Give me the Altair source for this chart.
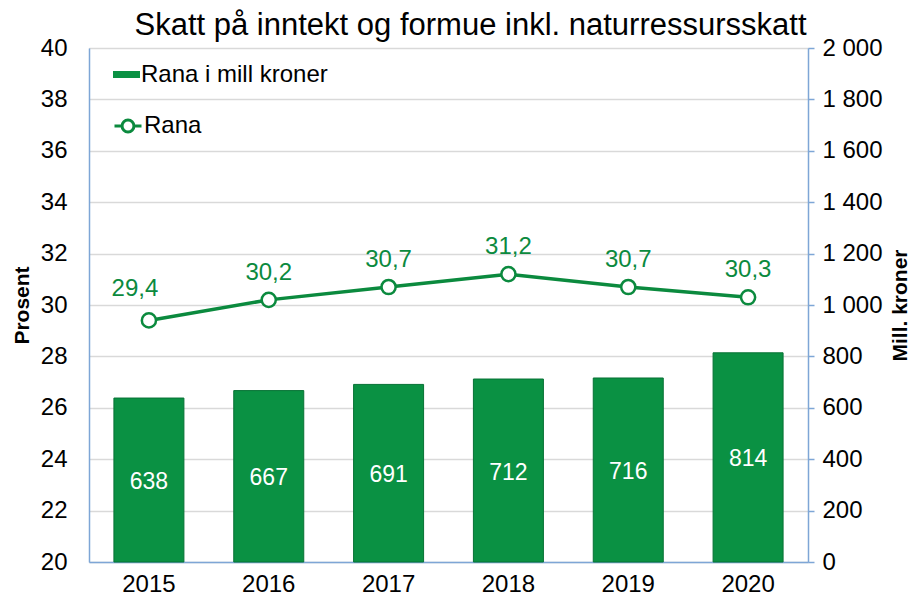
import altair as alt
import pandas as pd

years = ["2015", "2016", "2017", "2018", "2019", "2020"]
mill_kroner = [638, 667, 691, 712, 716, 814]
prosent = [29.4, 30.2, 30.7, 31.2, 30.7, 30.3]
bar_series = "Rana i mill kroner"
line_series = "Rana"
title_text = "Skatt på inntekt og formue inkl. naturressursskatt"

df = pd.DataFrame({
    "year": years,
    "mill": mill_kroner,
    "pct": prosent,
    "bar_series": bar_series,
    "line_series": line_series,
})
df["pct_label"] = [f"{v:.1f}".replace(".", ",") for v in prosent]
df["mill_mid"] = df["mill"] / 2

FONT = "Liberation Sans"
GREEN = "#0a9143"
LINE_GREEN = "#0b8a3e"
AXIS_BLUE = "#7ea6d6"

base = alt.Chart(df)

x = alt.X(
    "year:O",
    scale=alt.Scale(paddingInner=0, paddingOuter=0),
    axis=alt.Axis(title=None, labelAngle=0, labelFontSize=24, labelColor="black",
                  labelFont=FONT, ticks=False, domainColor=AXIS_BLUE, domainWidth=1.5,
                  labelPadding=10, grid=False),
)

right_scale = alt.Scale(domain=[0, 2000], nice=False)
left_scale = alt.Scale(domain=[20, 40], nice=False, zero=False)

right_axis = alt.Axis(orient="right", title="Mill. kroner", titleAngle=270,
                      titleFontSize=21, titleFont=FONT, titleFontWeight="bold",
                      titleColor="black", titlePadding=28,
                      values=list(range(0, 2001, 200)),
                      labelExpr="replace(format(datum.value, ',d'), ',', ' ')",
                      labelFontSize=24, labelFont=FONT, labelColor="black",
                      grid=False, tickColor=AXIS_BLUE, tickSize=6, tickWidth=1.5,
                      domainColor=AXIS_BLUE, domainWidth=1.5, labelPadding=8)
left_axis = alt.Axis(title="Prosent", titleFontSize=21, titleFont=FONT,
                     titleFontWeight="bold", titleColor="black", titlePadding=8,
                     values=list(range(20, 41, 2)), labelFontSize=24,
                     labelFont=FONT, labelColor="black", ticks=False,
                     labelPadding=22, grid=True, gridColor="#d9d9d9",
                     gridWidth=1.5, domainColor=AXIS_BLUE, domainWidth=1.5)

bar_legend = alt.Legend(
    title=None, orient="none", legendX=24, legendY=13,
    symbolType="M-1,-0.26L1,-0.26L1,0.26L-1,0.26Z", symbolSize=729,
    symbolStrokeWidth=0, labelFontSize=24, labelFont=FONT, labelColor="black",
    labelOffset=1, padding=0, labelLimit=400,
)
line_legend = alt.Legend(
    title=None, orient="none", legendX=24, legendY=63,
    symbolType="M-1,0L-0.44,0M0.44,0L1,0M0.44,0A0.44,0.44,0,1,1,-0.44,0A0.44,0.44,0,1,1,0.44,0Z",
    symbolSize=729, symbolStrokeWidth=3, symbolFillColor="white",
    labelFontSize=24, labelFont=FONT, labelColor="black", labelOffset=1, padding=0,
    labelLimit=400,
)

bars = base.mark_bar(size=70, stroke="#077235", strokeWidth=1).encode(
    x=x,
    y=alt.Y("mill:Q", scale=right_scale, axis=right_axis),
    color=alt.Color("bar_series:N", scale=alt.Scale(range=[GREEN]), legend=bar_legend),
)
bar_labels = base.mark_text(color="white", fontSize=23, font=FONT, dy=2).encode(
    x=x,
    y=alt.Y("mill_mid:Q", scale=right_scale, axis=right_axis),
    text="mill:Q",
)
bar_layer = alt.layer(bars, bar_labels)

left_y = alt.Y("pct:Q", scale=left_scale, axis=left_axis)

line = base.mark_line(strokeWidth=3.5).encode(
    x=x, y=left_y,
    stroke=alt.Stroke("line_series:N", scale=alt.Scale(range=[LINE_GREEN]), legend=line_legend),
)
points = base.mark_circle(size=200, fill="white", stroke=LINE_GREEN, strokeWidth=2.5,
                          opacity=1).encode(x=x, y=left_y)
labels_first = base.transform_filter(alt.datum.year == years[0]).mark_text(
    color=LINE_GREEN, fontSize=24, font=FONT, dx=-14, dy=-31).encode(
    x=x, y=left_y, text="pct_label:N",
)
labels_rest = base.transform_filter(alt.datum.year != years[0]).mark_text(
    color=LINE_GREEN, fontSize=24, font=FONT, dy=-27).encode(
    x=x, y=left_y, text="pct_label:N",
)
line_layer = alt.layer(line, points, labels_first, labels_rest)

chart = alt.layer(bar_layer, line_layer).resolve_scale(
    y="independent", color="independent", stroke="independent"
).resolve_axis(y="independent").resolve_legend(
    color="independent", stroke="independent"
).properties(
    width=719, height=514,
    title=alt.TitleParams(title_text, fontSize=31, font=FONT, fontWeight="normal",
                          color="black", anchor="middle", dx=22, dy=14, offset=8),
    autosize=alt.AutoSizeParams(type="none"),
    padding={"left": 81, "top": 40, "right": 102, "bottom": 36},
).configure_view(fill="#f2f2f2", stroke=None).configure(background="white")

chart.save("out.html", embed_options={"renderer": "svg", "actions": False})
